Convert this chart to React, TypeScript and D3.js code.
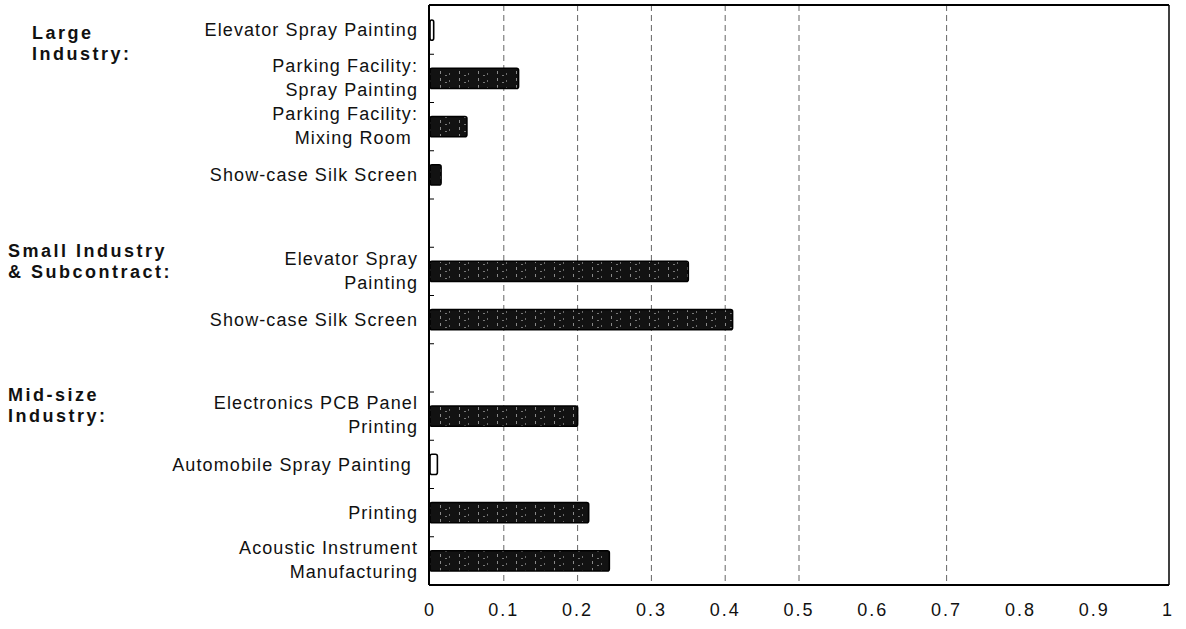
import React from "react";
import * as d3 from "d3";

// ---- data ----
const groups = ["Large\nIndustry:", "Small Industry\n& Subcontract:", "Mid-size\nIndustry:"];
const categories = [
  "Elevator Spray Painting",
  "Parking Facility:\nSpray Painting",
  "Parking Facility:\nMixing Room ",
  "Show-case Silk Screen",
  "Elevator Spray\nPainting",
  "Show-case Silk Screen",
  "Electronics PCB Panel\nPrinting",
  "Automobile Spray Painting ",
  "Printing",
  "Acoustic Instrument\nManufacturing",
];
const categoryGroup = [0, 0, 0, 0, 1, 1, 2, 2, 2, 2];
const values = [0.005, 0.12, 0.05, 0.015, 0.35, 0.41, 0.2, 0.01, 0.215, 0.243];
const xTicks = [0, 0.1, 0.2, 0.3, 0.4, 0.5, 0.6, 0.7, 0.8, 0.9, 1];
const xTickLabels = ["0", "0.1", "0.2", "0.3", "0.4", "0.5", "0.6", "0.7", "0.8", "0.9", "1"];
const gridValues = [0.1, 0.2, 0.3, 0.4, 0.5, 0.7];

// ---- layout ----
const W = 1186;
const H = 629;
const plot = { left: 429, right: 1169, top: 5, bottom: 585 };
const labelRight = 418;
const groupLabelX = [32, 8, 8];
const groupLabelDy = [13, -10, -11];
const FONT = "'Liberation Sans', Arial, Helvetica, sans-serif";

export default function App() {
  const slots: string[] = [];
  categories.forEach((_, i) => {
    if (i > 0 && categoryGroup[i] !== categoryGroup[i - 1]) slots.push("gap" + i);
    slots.push("c" + i);
  });

  const x = d3.scaleLinear().domain([0, 1]).range([430, 1168]);
  const y = d3
    .scaleBand<string>()
    .domain(slots)
    .range([plot.top + 1, plot.bottom])
    .paddingInner(0.58)
    .paddingOuter(0.29);
  const step = y.step();
  const bw = y.bandwidth();
  const center = (i: number) => (y("c" + i) as number) + bw / 2;

  const boundaries = slots.slice(1).map((k) => (y(k) as number) - (step * 0.58) / 2);
  const firstOfGroup = groups.map((_, g) => categoryGroup.indexOf(g));

  return (
    <svg
      width={W}
      height={H}
      style={{ position: "absolute", left: 0, top: 0, background: "#fff" }}
      fontFamily={FONT}
    >
      <defs>
        <pattern id="speckle" patternUnits="userSpaceOnUse" width="19" height="7">
          <rect width="19" height="7" fill="#121212" />
          <rect x="3" y="1" width="1" height="3" fill="#8a8a8a" />
          <rect x="12" y="3" width="1" height="2" fill="#6a6a6a" />
          <rect x="8" y="5" width="2" height="1" fill="#777" />
        </pattern>
      </defs>

      {gridValues.map((v) => (
        <line
          key={"g" + v}
          x1={x(v)}
          x2={x(v)}
          y1={plot.top}
          y2={plot.bottom}
          stroke="#666"
          strokeWidth={1}
          strokeDasharray="6,4"
        />
      ))}

      {values.map((v, i) => {
        const w = x(v) - x(0);
        return (
          <rect
            key={"b" + i}
            x={x(0)}
            y={y("c" + i) as number}
            width={Math.max(w, 3)}
            height={bw}
            rx={2}
            fill={w < 10 ? "#fff" : "url(#speckle)"}
            stroke="#000"
            strokeWidth={1.6}
          />
        );
      })}

      <line x1={plot.left} x2={plot.right} y1={plot.top} y2={plot.top} stroke="#000" strokeWidth={2} />
      <line x1={plot.left} x2={plot.right} y1={plot.bottom} y2={plot.bottom} stroke="#000" strokeWidth={2} />
      <line x1={plot.left} x2={plot.left} y1={plot.top} y2={plot.bottom} stroke="#000" strokeWidth={2} />
      <line x1={plot.right} x2={plot.right} y1={plot.top} y2={plot.bottom} stroke="#000" strokeWidth={1.5} />

      {boundaries.map((b, i) => (
        <line key={"t" + i} x1={plot.left} x2={plot.left + 5} y1={b} y2={b} stroke="#000" strokeWidth={1} />
      ))}

      {xTicks.map((t, i) => (
        <text
          key={"xt" + i}
          x={x(t)}
          y={610}
          dy="0.35em"
          textAnchor="middle"
          fontSize={18}
          letterSpacing={2}
          fill="#111"
        >
          {xTickLabels[i]}
        </text>
      ))}

      {categories.map((c, i) => {
        const lines = c.split("\n");
        const cy = center(i);
        return (
          <text
            key={"c" + i}
            x={labelRight}
            textAnchor="end"
            fontSize={18}
            letterSpacing={1.1}
            fill="#111"
            style={{ whiteSpace: "pre" }}
          >
            {lines.map((ln, j) => (
              <tspan
                key={j}
                x={labelRight}
                y={lines.length === 1 ? cy : cy - 1 + (j - 0.5) * 24}
                dy="0.35em"
              >
                {ln}
              </tspan>
            ))}
          </text>
        );
      })}

      {groups.map((g, gi) => {
        const lines = g.split("\n");
        const cy = center(firstOfGroup[gi]) + groupLabelDy[gi];
        return (
          <text key={"grp" + gi} fontSize={18} fontWeight="bold" letterSpacing={2.5} fill="#111">
            {lines.map((ln, j) => (
              <tspan key={j} x={groupLabelX[gi]} y={cy + (j - 0.5) * 21} dy="0.35em">
                {ln}
              </tspan>
            ))}
          </text>
        );
      })}
    </svg>
  );
}
